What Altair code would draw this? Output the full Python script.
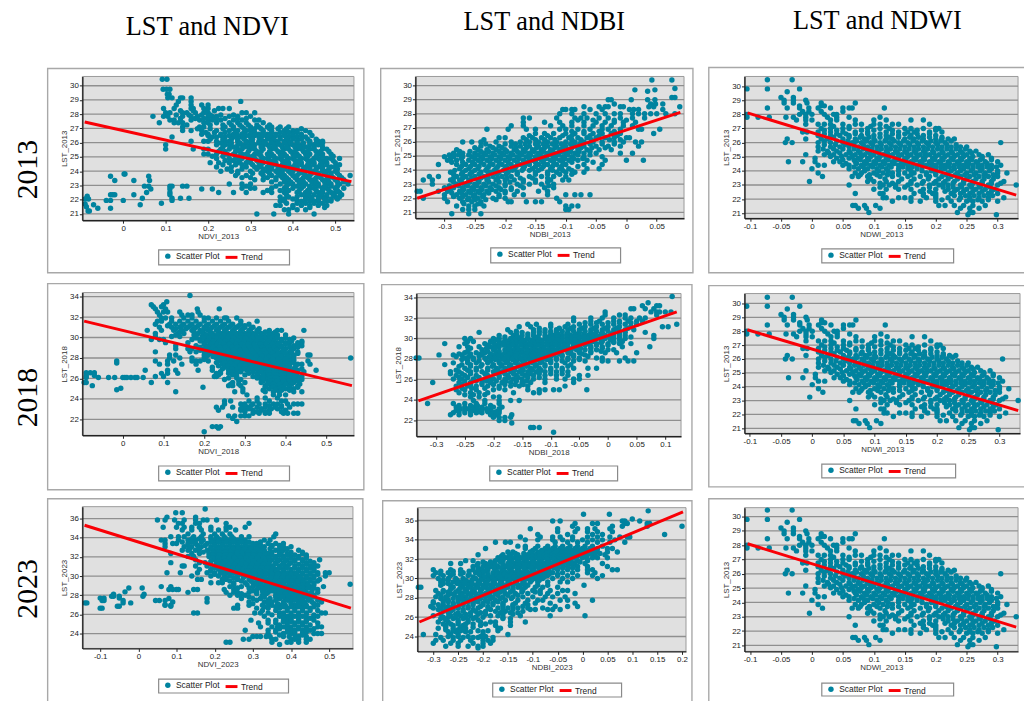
import altair as alt
import pandas as pd

TEAL = "#00839f"
RED = "#f90006"
BG = "#e0e0e0"
GRID = "#8f8f8f"

NDVI_2013 = [
 (30.45,[.092,.103]),(29.75,[.094,.102,.11]),(29.4,[.104,.108]),(29.15,[.105,.115,.135,.14,.16]),
 (28.9,[.13,.16,.277]),(28.65,[.125,.16,.185,.2]),(28.4,[.12,.095,.16,.165,.19,.2,.225,.235,.25]),
 (28.1,[.1,.11,.14,.15,.17,.19,.2,.28,.29,.31]),(27.85,[.07,.095,.105,.14,.16,.175,.2,.21,.22,.25,.27,.3]),
 (27.6,[.11,.12,.16,.18,.2,.21,.23,.26,.28,.31,.32]),(27.4,[.085,.12,.13,.14,.19,.2,.22,.25,.27,.29,.33]),
 (27.1,[.14,.18,.19,.24,.26,.28,.3,.32,.34,.35,.37,.39]),(26.85,[.14,.16,.185,.22,.25,.27,.29,.3,.33,.35,.38,.4,.41,.43]),
 (26.6,[.185,.2,.23,.26,.28,.3,.32,.34,.36,.38,.4,.42]),(26.4,[.115,.21,.22,.24,.26,.28,.3,.32,.34,.35,.37,.39,.41,.43]),
 (26.1,[.16,.19,.2,.22,.24,.25,.27,.29,.3,.32,.33,.35,.36,.38,.39,.41,.44,.46,.47]),
 (25.85,[.1,.22,.24,.25,.27,.28,.3,.31,.33,.34,.36,.37,.39,.4,.42,.44,.45,.46]),
 (25.55,[.1,.165,.19,.2,.23,.25,.27,.28,.3,.31,.33,.35,.36,.38,.39,.41,.42,.44,.45,.47,.48]),
 (25.2,[.19,.2,.22,.245,.26,.28,.29,.31,.32,.34,.35,.37,.38,.4,.41,.43,.44,.46,.47,.49]),
 (24.9,[.22,.25,.27,.28,.3,.31,.33,.34,.36,.37,.39,.4,.42,.43,.45,.46,.48,.49,.51]),
 (24.6,[.205,.225,.25,.27,.29,.3,.32,.33,.35,.36,.38,.39,.41,.42,.44,.45,.47,.48,.5]),
 (24.3,[.22,.255,.29,.31,.32,.34,.35,.37,.38,.4,.41,.43,.44,.46,.47,.49,.5]),
 (24.0,[.23,.255,.27,.3,.33,.34,.36,.37,.39,.4,.42,.43,.45,.47,.48,.5]),
 (23.7,[.265,.29,.33,.35,.37,.38,.4,.41,.43,.44,.46,.48,.49,.51,.535]),
 (23.4,[.31,.33,.36,.38,.39,.41,.42,.44,.45,.47,.48,.5,.52]),
 (23.1,[.25,.28,.3,.37,.39,.4,.42,.43,.45,.46,.48,.49,.51,.53]),
 (22.8,[.28,.3,.31,.35,.38,.4,.42,.44,.45,.47,.48,.5,.52]),
 (22.5,[.26,.29,.33,.35,.38,.41,.43,.44,.46,.47,.49,.5,.51]),
 (22.2,[.37,.39,.41,.43,.44,.46,.47,.48,.5,.51]),(21.9,[.37,.38,.41,.42,.44,.45,.46,.48,.49]),
 (21.6,[.36,.37,.4,.42,.44,.46,.48]),(21.3,[.38,.39,.41,.43]),(21.0,[.39,.355,.315,.45]),
 (23.8,[.002,.004]),(23.65,[-.03,.06]),(23.35,[-.02,.025,.062]),(22.95,[.05,.06,.11,.115,.14,.15]),
 (22.75,[.065,.11,.185,.21]),(22.5,[.055,.11,.225]),(22.35,[-.025,-.02,.025,-.03,.11]),
 (22.1,[.045,.135,.155,.115]),(21.95,[-.04,-.03,0,.115]),(21.75,[.09]),(21.65,[.04,-.07]),
 (21.4,[-.03,-.06]),(22.25,[-.085]),(22.05,[-.082,-.09]),(21.7,[-.09]),(21.5,[-.087]),(21.2,[-.08,-.083]),
]
NDVI_2013_B = [
 (28.25,[.135,.165,.195,.215]),(27.95,[.125,.155,.185,.205,.23,.26]),(27.7,[.135,.17,.19,.22,.24,.27,.29]),
 (27.25,[.15,.205,.235,.255,.275,.295,.315,.345]),(26.98,[.175,.205,.235,.26,.285,.31,.325,.345,.365,.385,.42]),
 (26.72,[.195,.215,.24,.265,.285,.31,.33,.35,.37,.39,.41,.44]),(26.5,[.2,.23,.25,.27,.29,.31,.33,.345,.36,.38,.4,.42,.445]),
 (26.25,[.205,.235,.255,.27,.285,.305,.325,.34,.355,.37,.385,.4,.42,.435,.455]),
 (25.98,[.23,.255,.275,.29,.305,.32,.335,.35,.365,.38,.395,.41,.425,.44,.455,.47]),
 (25.7,[.235,.26,.285,.295,.305,.325,.345,.355,.375,.385,.405,.415,.43,.45,.47]),
 (25.38,[.225,.24,.265,.275,.295,.315,.325,.345,.365,.375,.395,.405,.425,.435,.455,.465,.485]),
 (25.05,[.21,.235,.265,.275,.295,.305,.325,.345,.355,.375,.385,.405,.415,.435,.455,.47,.495]),
 (24.75,[.24,.26,.275,.295,.315,.325,.345,.355,.375,.385,.405,.415,.435,.445,.465,.475,.495]),
 (24.45,[.235,.265,.28,.305,.325,.345,.36,.375,.39,.405,.42,.435,.45,.465,.48,.51]),
 (24.15,[.245,.28,.315,.33,.35,.365,.38,.395,.41,.425,.44,.455,.47,.485,.505]),
 (23.85,[.27,.305,.325,.345,.365,.375,.395,.415,.425,.445,.46,.475,.49,.505]),
 (23.55,[.28,.3,.34,.36,.375,.385,.405,.425,.435,.455,.465,.485,.495,.515]),
 (23.25,[.35,.38,.395,.415,.425,.445,.455,.475,.485,.505,.52]),(22.95,[.29,.36,.385,.41,.425,.44,.46,.475,.49,.505]),
 (22.65,[.34,.37,.39,.415,.435,.455,.47,.485,.505]),(22.35,[.385,.42,.435,.45,.465,.48,.495,.515]),
 (22.05,[.38,.4,.43,.445,.46,.475,.49,.505]),(21.75,[.385,.41,.43,.45,.47]),(21.45,[.4,.44,.475]),
]
NDBI_2013 = [
 (30.4,[.042,.075]),(29.8,[.08]),(29.7,[.014,.047]),(29.6,[.035]),(29.15,[.075,.08]),
 (29.0,[-.03,-.025,.035,.047,.008]),(28.7,[-.02,.04,.048,.06]),(28.5,[-.07,-.045,-.035,-.03,-.01,-.005,.037,.045,.088]),
 (28.3,[-.105,-.1,-.09,-.085,-.06,-.04,.005,.012,.02,.06]),(28.0,[-.11,-.09,-.07,-.05,-.035,-.02,-.01,.01,.02,.03,.04,.05,.065,.08]),
 (27.7,[-.17,-.16,-.115,-.085,-.075,-.065,-.045,-.03,-.01,.01,.03]),(27.4,[-.17,-.135,-.11,-.09,-.07,-.05,-.035,-.02,-.005,.015]),
 (27.15,[-.19,-.17,-.125,-.105,-.09,-.07,-.055,-.04,-.025,-.005,.01]),
 (26.9,[-.23,-.195,-.165,-.15,-.11,-.1,-.08,-.06,-.04,-.03,-.01,.02,.025,.055]),
 (26.6,[-.15,-.135,-.12,-.1,-.085,-.07,-.055,-.04,-.025,-.01,.045]),
 (26.3,[-.2,-.21,-.17,-.155,-.14,-.125,-.11,-.095,-.08,-.065,-.05,-.035,-.02,0,.005]),
 (26.0,[-.27,-.255,-.24,-.215,-.19,-.175,-.16,-.145,-.13,-.115,-.1,-.085,-.07,-.055,-.04,-.02,-.005,.015,.025]),
 (25.7,[-.24,-.225,-.21,-.19,-.175,-.16,-.145,-.13,-.115,-.1,-.085,-.07,-.05,-.03,-.01,.02]),
 (25.45,[-.28,-.245,-.23,-.215,-.2,-.185,-.17,-.155,-.14,-.125,-.11,-.095,-.08,-.065,-.045,-.025]),
 (25.2,[-.285,-.27,-.25,-.235,-.22,-.205,-.19,-.175,-.16,-.145,-.13,-.115,-.1,-.085,-.07,-.05,-.01,.01]),
 (24.95,[-.3,-.285,-.27,-.255,-.24,-.225,-.21,-.195,-.18,-.165,-.15,-.135,-.12,-.105,-.09,-.07,-.04]),
 (24.7,[-.295,-.28,-.26,-.245,-.23,-.215,-.2,-.185,-.17,-.155,-.14,-.125,-.11,-.095,-.08,-.065,-.035,0,.028]),
 (24.4,[-.31,-.28,-.265,-.25,-.235,-.22,-.205,-.19,-.175,-.16,-.145,-.13,-.115,-.1,-.07,-.04]),
 (24.1,[-.275,-.26,-.245,-.23,-.215,-.2,-.185,-.17,-.155,-.14,-.125,-.11,-.095,-.065,-.045]),
 (23.85,[-.29,-.27,-.255,-.24,-.225,-.21,-.195,-.18,-.15,-.13,-.115,-.1,-.085,-.07]),
 (23.55,[-.325,-.31,-.28,-.265,-.25,-.235,-.22,-.205,-.19,-.16,-.14,-.12,-.1]),
 (23.3,[-.335,-.32,-.29,-.275,-.26,-.245,-.23,-.215,-.2,-.185,-.17,-.15,-.125,-.105,-.095]),
 (23.0,[-.32,-.28,-.265,-.25,-.235,-.22,-.2,-.18,-.16,-.14,-.12]),
 (22.75,[-.3,-.285,-.27,-.255,-.24,-.225,-.21,-.19,-.17,-.135,-.12]),
 (22.5,[-.345,-.34,-.31,-.295,-.275,-.26,-.245,-.23,-.215,-.2,-.18,-.145,-.13]),
 (22.25,[-.3,-.28,-.265,-.25,-.235,-.21,-.185,-.17,-.13,-.1,-.085,-.075,-.06]),
 (22.0,[-.335,-.3,-.275,-.26,-.245,-.22,-.2,-.115]),(21.75,[-.295,-.27,-.255,-.24,-.195,-.19,-.165,-.15,-.14,-.11]),
 (21.45,[-.28,-.26,-.25,-.235,-.1,-.09,-.08]),(21.2,[-.27,-.26,-.25,-.1,-.095]),(20.9,[-.288,-.26,-.24]),
]
NDBI_2013_B = [
 (27.55,[-.08,-.055,-.02,0]),(26.75,[-.09,-.07,-.045,-.02]),(26.45,[-.16,-.13,-.105,-.09,-.06,-.045,-.015]),
 (26.15,[-.235,-.165,-.15,-.135,-.118,-.09,-.075,-.058,-.028,-.01]),
 (25.85,[-.232,-.2,-.183,-.167,-.15,-.137,-.122,-.107,-.092,-.077,-.06,-.04,-.02]),
 (25.58,[-.25,-.22,-.205,-.182,-.165,-.148,-.135,-.118,-.105,-.09,-.075,-.057,-.035]),
 (25.32,[-.275,-.258,-.24,-.227,-.21,-.197,-.18,-.167,-.152,-.137,-.122,-.107,-.092,-.078,-.06]),
 (25.08,[-.292,-.277,-.26,-.245,-.232,-.217,-.202,-.187,-.172,-.158,-.142,-.127,-.112,-.097,-.08,-.06]),
 (24.82,[-.29,-.272,-.25,-.237,-.222,-.207,-.192,-.177,-.16,-.147,-.132,-.117,-.102,-.087,-.072]),
 (24.55,[-.288,-.27,-.254,-.24,-.225,-.21,-.195,-.18,-.165,-.15,-.137,-.12,-.105,-.09,-.055]),
 (24.25,[-.272,-.257,-.243,-.227,-.212,-.198,-.182,-.168,-.15,-.137,-.122,-.107,-.08]),
 (23.98,[-.283,-.265,-.25,-.232,-.218,-.203,-.188,-.172,-.16,-.145,-.122,-.105,-.09]),
 (23.7,[-.285,-.272,-.258,-.243,-.228,-.213,-.198,-.18,-.15,-.13,-.11,-.09]),
 (23.43,[-.285,-.27,-.255,-.24,-.228,-.212,-.197,-.175,-.155,-.13]),
 (23.15,[-.285,-.272,-.258,-.243,-.227,-.21,-.192,-.17,-.15,-.13]),
 (22.88,[-.292,-.277,-.262,-.247,-.232,-.215,-.2,-.175,-.128]),(22.62,[-.29,-.268,-.252,-.238,-.222,-.207,-.19]),
 (22.37,[-.288,-.272,-.257,-.242,-.227,-.2]),(22.12,[-.285,-.27,-.252,-.237,-.21]),(21.9,[-.262,-.25,-.232,-.215]),(21.6,[-.268,-.245,-.24]),
]
NDWI_2013 = [
 (30.45,[-.072,-.032]),(29.8,[-.105,-.072,-.02]),(29.6,[-.04]),(29.2,[-.05,-.03]),(29.0,[-.045,-.03,-.01]),
 (28.8,[-.045,-.03,-.008,.015,.07]),(28.6,[-.02,.015,.02]),(28.45,[-.072,-.04,-.02,-.005,.01,.03,.05,.06,.065,.117]),
 (28.2,[-.015,-.005,.015,.05]),(28.0,[-.105,-.02,-.01,0,.02,.035,.04]),(27.8,[-.105,-.087,-.069,-.042,-.03,-.01,.025,.04,.06,.11]),
 (27.6,[-.025,-.01,0,.03,.04,.07,.1,.12,.16,.18]),(27.3,[-.01,.01,.02,.03,.05,.07,.08,.1,.11,.13,.14,.19]),
 (27.0,[.015,.03,.05,.06,.09,.11,.125,.15,.16,.18,.2,.205]),(26.75,[-.015,-.008,.01,.03,.05,.07,.09,.12,.14,.155,.165,.19,.21]),
 (26.5,[.01,.03,.045,.06,.08,.1,.12,.14,.16,.18,.2]),(26.25,[-.04,-.01,.015,.025,.05,.07,.085,.1,.12,.13,.15,.165,.18,.2,.21,.22,.23]),
 (26.0,[-.043,-.032,.01,.03,.05,.065,.08,.095,.11,.125,.14,.155,.17,.185,.2,.215,.305]),
 (25.7,[.01,.03,.045,.06,.075,.09,.105,.12,.135,.15,.165,.18,.195,.21,.225,.24,.25]),
 (25.4,[.01,.025,.04,.06,.075,.09,.105,.12,.135,.15,.165,.18,.195,.21,.225,.24,.265,.255]),
 (25.15,[-.01,.02,.035,.055,.07,.085,.1,.115,.13,.145,.16,.175,.19,.205,.22,.235,.25,.27,.285]),
 (24.9,[.005,.04,.06,.075,.09,.105,.12,.135,.15,.165,.18,.195,.21,.225,.24,.255,.275,.29]),
 (24.65,[-.038,-.015,.005,.035,.045,.07,.085,.1,.115,.13,.145,.16,.175,.19,.205,.22,.235,.25,.265,.28,.3]),
 (24.4,[.01,.02,.05,.06,.08,.095,.11,.125,.14,.155,.17,.185,.2,.215,.23,.245,.26,.275,.29,.305]),
 (24.15,[0,.06,.075,.09,.105,.12,.14,.155,.17,.2,.215,.23,.245,.26,.275,.29]),
 (23.85,[.01,.07,.08,.1,.115,.13,.15,.165,.185,.2,.22,.235,.25,.265,.28,.3,.315]),
 (23.6,[.017,.065,.075,.09,.11,.13,.155,.175,.19,.21,.225,.24,.255,.27,.285,.3]),
 (23.25,[-.004,.09,.1,.12,.14,.16,.18,.2,.215,.23,.245,.26,.275,.29,.31]),
 (23.0,[.06,.115,.125,.135,.155,.17,.19,.205,.22,.24,.255,.27,.285,.3,.33]),
 (22.7,[.1,.12,.14,.16,.18,.2,.22,.235,.25,.265,.28,.295]),(22.4,[.07,.11,.115,.165,.18,.195,.2,.225,.24,.255,.27,.285,.3]),
 (22.1,[.115,.12,.14,.15,.16,.185,.2,.22,.24,.255,.27,.285,.31]),(21.85,[.13,.16,.175,.2,.225,.25,.26,.275,.3]),
 (21.55,[.066,.07,.085,.103,.205,.215,.23,.245,.26,.28]),(21.35,[.075,.088,.11,.24,.255,.27]),
 (21.05,[.092,.255,.26,.235]),(20.9,[.252,.298]),
]
NDWI_2013_B = [
 (27.15,[.035,.06,.095,.12]),(26.87,[.02,.04,.08,.1,.13,.17,.2]),(26.62,[.02,.04,.055,.07,.09,.11,.13,.15,.17,.19]),
 (26.38,[.035,.06,.078,.092,.11,.125,.14,.158,.172,.19,.21]),
 (26.12,[.02,.04,.058,.072,.088,.102,.118,.133,.148,.163,.178,.192,.208,.225]),
 (25.85,[.02,.038,.053,.068,.083,.098,.112,.128,.143,.158,.172,.188,.203,.218,.233]),
 (25.55,[.018,.035,.05,.068,.083,.097,.112,.127,.142,.157,.172,.187,.203,.218,.233,.248]),
 (25.27,[.027,.045,.062,.078,.093,.108,.122,.138,.153,.168,.183,.197,.212,.227,.243,.258]),
 (25.02,[.03,.048,.065,.08,.095,.11,.125,.14,.155,.17,.183,.2,.215,.23,.245,.26,.275]),
 (24.78,[.05,.068,.078,.092,.108,.123,.138,.152,.168,.182,.198,.212,.228,.242,.258,.272,.29]),
 (24.52,[.055,.072,.088,.103,.118,.133,.148,.163,.178,.193,.208,.222,.238,.253,.268,.283]),
 (24.27,[.068,.083,.098,.113,.128,.147,.162,.178,.193,.208,.222,.238,.252,.268,.283,.298]),
 (24.0,[.085,.108,.123,.14,.16,.178,.193,.208,.225,.24,.257,.272,.287,.3]),
 (23.72,[.078,.093,.105,.122,.14,.16,.185,.2,.217,.232,.247,.262,.278,.293]),
 (23.42,[.095,.118,.145,.165,.188,.205,.22,.235,.25,.265,.278,.293]),
 (23.12,[.11,.13,.16,.178,.197,.212,.228,.245,.26,.275,.29,.305]),
 (22.85,[.11,.135,.15,.19,.212,.228,.242,.258,.272,.288]),(22.55,[.175,.19,.215,.23,.245,.26,.275,.29]),
 (22.25,[.18,.2,.23,.248,.262,.278,.292]),(21.95,[.21,.238,.255,.268,.285]),
]
NDVI_2018 = [
 (34.1,[.165]),(33.5,[.108]),(33.2,[.07,.1]),(33.0,[.075,.095]),(32.8,[.08,.105,.183,.237]),(32.5,[.085,.1,.11,.14,.185]),
 (32.2,[.09,.145,.16,.17,.19]),(31.9,[.095,.105,.2,.12,.15,.17,.21,.23,.25,.255,.28]),
 (31.6,[.085,.095,.12,.14,.16,.18,.2,.22,.24,.26,.29,.33]),(31.3,[.08,.115,.13,.15,.17,.19,.21,.23,.25,.27,.29,.31]),
 (31.0,[.09,.12,.14,.16,.18,.2,.22,.24,.26,.28,.3,.32]),(30.7,[.06,.095,.125,.145,.17,.19,.21,.23,.25,.27,.29,.31,.33,.36,.38,.39,.445]),
 (30.4,[.08,.135,.15,.185,.2,.22,.24,.26,.28,.3,.32,.34,.36,.37]),
 (30.1,[.08,.12,.14,.18,.195,.21,.225,.24,.255,.27,.285,.3,.315,.33,.35,.36,.37]),
 (29.8,[.07,.09,.1,.17,.19,.205,.22,.235,.25,.265,.28,.295,.31,.325,.34,.355,.37,.39,.41]),
 (29.5,[.105,.16,.2,.215,.23,.245,.26,.275,.29,.305,.32,.335,.35,.365,.38,.4,.41,.43,.44]),
 (29.2,[.13,.18,.21,.225,.24,.255,.27,.285,.3,.315,.33,.345,.36,.375,.39,.42,.44]),
 (28.9,[.13,.16,.17,.2,.215,.23,.245,.26,.275,.29,.305,.32,.335,.35,.365,.38,.4,.42]),
 (28.6,[.08,.165,.18,.2,.22,.235,.25,.265,.28,.295,.31,.325,.34,.355,.37,.39,.41,.43]),
 (28.3,[.115,.13,.2,.21,.225,.24,.255,.27,.285,.3,.315,.33,.345,.36,.375,.39,.405,.42,.46,.455]),
 (28.0,[.115,.14,.17,.2,.23,.245,.26,.275,.29,.305,.32,.335,.35,.365,.38,.395,.41,.56]),
 (27.7,[.08,.11,.125,.17,.18,.19,.21,.24,.255,.27,.285,.3,.315,.33,.345,.36,.375,.39,.41,.42,.455]),
 (27.4,[.09,.11,.145,.18,.245,.26,.275,.29,.305,.32,.335,.35,.365,.38,.395,.41,.43,.44,.46]),
 (27.1,[.22,.25,.265,.28,.295,.31,.325,.34,.355,.37,.385,.4]),
 (26.8,[.055,.11,.13,.185,.22,.26,.275,.29,.305,.32,.335,.35,.365,.38,.395,.41,.43,.475]),
 (26.5,[.095,.11,.135,.23,.24,.26,.28,.31,.33,.35,.365,.38,.4,.42]),(26.2,[.08,.1,.225,.23,.28,.32,.335,.35,.37,.385,.4,.415,.43,.44]),
 (25.9,[.25,.29,.34,.355,.37,.385,.4,.415,.43,.44]),(25.6,[.07,.11,.27,.3,.34,.36,.375,.39,.405,.42]),
 (25.3,[.26,.27,.29,.35,.365,.38,.395,.41,.43]),(25.15,[.197]),(25.0,[.295,.36,.38,.4,.42]),(24.7,[.13,.275,.295,.35,.37,.385,.42,.44]),
 (24.4,[.305,.37,.385,.4]),(24.1,[.33,.35,.38]),(23.8,[.25,.265,.31,.33,.36,.39,.4]),
 (23.5,[.25,.29,.3,.32,.335,.35,.37,.38,.405,.42,.43,.44]),(23.2,[.23,.245,.27,.295,.305,.33,.35,.375,.39,.41]),
 (22.9,[.235,.29,.3,.32,.34,.36,.4]),(22.6,[.395,.405,.32,.335,.35,.42,.43,.36]),(22.35,[.26,.275,.29,.3,.31]),
 (22.1,[.27]),(21.8,[.28]),(21.3,[.22,.23,.24]),(21.15,[.235]),(20.8,[.2]),
 (27.7,[-.015]),(27.5,[-.015]),(26.55,[-.09,-.08,-.07]),(26.3,[-.09,-.07]),
 (26.1,[-.09,-.06,-.035,-.02,0,.005,.03,.02,.035,.05,.01]),(25.6,[-.095,-.09]),(25.3,[-.075]),(24.9,[-.015]),(25.05,[-.005]),
]
NDVI_2018_B = [
 (31.15,[.11,.145,.165,.185,.205,.225,.245,.265,.285,.3]),(30.85,[.13,.155,.175,.2,.215,.235,.255,.275,.295,.315,.335]),
 (30.55,[.14,.175,.195,.215,.235,.25,.27,.29,.31,.33,.35,.375]),
 (30.25,[.13,.175,.205,.218,.232,.248,.262,.278,.292,.308,.322,.34,.36,.38,.4]),
 (29.95,[.18,.198,.212,.228,.242,.258,.272,.288,.302,.318,.332,.348,.362,.38,.4,.42]),
 (29.65,[.19,.208,.222,.238,.252,.268,.282,.298,.312,.328,.342,.358,.372,.39,.415,.44]),
 (29.35,[.2,.218,.232,.248,.262,.278,.292,.308,.322,.338,.352,.368,.382,.4,.43]),
 (29.05,[.19,.208,.222,.238,.252,.268,.282,.298,.312,.328,.342,.358,.372,.39,.41,.43]),
 (28.75,[.19,.212,.228,.242,.258,.272,.288,.302,.318,.332,.348,.362,.378,.395,.415]),
 (28.45,[.205,.218,.232,.248,.262,.278,.292,.308,.322,.338,.352,.368,.382,.4,.415,.43]),
 (28.15,[.205,.222,.238,.252,.268,.282,.298,.312,.328,.342,.358,.372,.388,.405,.42]),
 (27.85,[.2,.235,.248,.262,.278,.292,.308,.322,.338,.352,.368,.382,.4,.42]),
 (27.55,[.23,.25,.265,.28,.295,.31,.325,.34,.355,.37,.385,.4,.42]),
 (27.25,[.235,.258,.272,.288,.302,.318,.332,.348,.362,.378,.392,.41,.425]),
 (26.95,[.245,.268,.282,.298,.312,.328,.342,.358,.372,.388,.402,.42,.44]),
 (26.65,[.24,.27,.29,.32,.34,.358,.372,.39,.41,.43,.445]),(26.35,[.235,.27,.3,.33,.345,.36,.378,.392,.408,.425]),
 (26.05,[.26,.28,.33,.345,.362,.378,.392,.408,.422,.435]),(25.75,[.285,.345,.362,.38,.395,.41,.43]),
 (25.45,[.265,.285,.355,.37,.385,.4,.415,.435]),(25.15,[.35,.37,.39,.41,.43]),(24.85,[.345,.375,.39,.41]),
 (23.35,[.3,.315,.36,.39]),(23.05,[.29,.31,.34,.365,.38]),(22.75,[.3,.33,.35,.39]),
]
NDBI_2018 = [
 (34.1,[.112]),(33.5,[.07]),(33.2,[.06,.085,.09]),(32.9,[.04,.045,.065,.08]),(32.6,[-.005,.075,.085,.09,.1,.11]),
 (32.3,[-.005,.02,.03,.085]),(32.0,[-.06,-.03,-.01,.01,.03,.04,.055,.065]),(31.7,[-.06,-.03,-.015,.01,.02,.035,.05,.06]),
 (31.4,[-.14,-.125,-.1,-.07,-.05,-.03,-.01,.01,.03,.05,.12]),(31.15,[-.155,-.135,-.1,-.075,-.06,-.04,-.02,0,.02,.04,.095,.105]),
 (30.85,[-.175,-.13,-.11,-.09,-.07,-.05,-.03,-.01,.01,.03,.045]),(30.6,[-.225,-.17,-.15,-.13,-.11,-.09,-.07,-.05,-.03,-.01,.01,.03,.065]),
 (30.3,[-.19,-.165,-.15,-.13,-.11,-.095,-.08,-.065,-.05,-.035,-.02,-.005,.01,.03,.08]),
 (30.0,[-.25,-.24,-.2,-.19,-.17,-.155,-.14,-.125,-.11,-.095,-.08,-.065,-.05,-.035,-.02,-.005,.01,.03,.08]),
 (29.7,[-.245,-.235,-.205,-.19,-.175,-.16,-.145,-.13,-.115,-.1,-.085,-.07,-.055,-.04,-.025,-.01,.01,.025]),
 (29.5,[-.285,-.25,-.215,-.19,-.175,-.16,-.145,-.13,-.115,-.1,-.085,-.07,-.055,-.035,-.02,0,.02,.04]),
 (29.2,[-.26,-.245,-.225,-.205,-.19,-.175,-.16,-.145,-.13,-.115,-.1,-.085,-.07,-.05,-.03,-.01,.025,.073]),
 (28.9,[-.22,-.2,-.18,-.165,-.15,-.135,-.12,-.105,-.09,-.075,-.055,-.04,-.02,0,.01]),
 (28.6,[-.25,-.23,-.215,-.195,-.18,-.165,-.15,-.135,-.12,-.105,-.09,-.07,-.05,-.03,-.005,.015,.05]),
 (28.4,[-.295,-.27,-.255,-.24,-.22,-.2,-.185,-.17,-.155,-.14,-.125,-.11,-.095,-.08,-.06,-.04]),
 (28.1,[-.335,-.33,-.25,-.235,-.215,-.2,-.185,-.17,-.155,-.14,-.125,-.11,-.09,-.07,-.05,-.02,-.01,.03]),
 (27.8,[-.245,-.225,-.205,-.19,-.175,-.16,-.145,-.13,-.115,-.1,-.08,-.06,-.04,-.01,0,.02,.045,.035]),
 (27.45,[-.285,-.255,-.24,-.22,-.2,-.185,-.17,-.155,-.14,-.125,-.11,-.09,-.065]),
 (27.1,[-.25,-.23,-.21,-.195,-.18,-.165,-.15,-.135,-.12,-.1,-.08,-.06,-.02,-.035]),
 (26.75,[-.275,-.26,-.24,-.22,-.2,-.185,-.17,-.155,-.14,-.125,-.11,-.09,-.07]),
 (26.4,[-.265,-.25,-.23,-.21,-.19,-.175,-.16,-.145,-.13,-.11,-.09,-.07,-.05,-.035]),
 (26.05,[-.27,-.255,-.235,-.215,-.2,-.18,-.165,-.15,-.13,-.11,-.09,-.075,-.06,-.05]),
 (25.7,[-.306,-.26,-.24,-.22,-.205,-.185,-.17,-.15,-.135,-.11,-.06]),(25.35,[-.265,-.245,-.23,-.21,-.19,-.17,-.155,-.14,-.075]),
 (25.0,[-.265,-.25,-.23,-.2,-.18,-.14,-.12,-.11,-.095,-.085,-.037]),(24.7,[-.26,-.24,-.225,-.21,-.165,-.13,-.12]),
 (24.3,[-.24,-.225,-.2,-.19]),(23.95,[-.235,-.215,-.19,-.17,-.155]),(23.65,[-.315,-.27,-.25,-.23,-.215,-.19]),
 (23.3,[-.265,-.25,-.235,-.22,-.2,-.185]),(23.0,[-.265,-.25,-.235,-.22,-.205,-.19,-.21]),(22.75,[-.27,-.25,-.23,-.22,-.2,-.19]),
 (22.55,[-.275,-.26,-.24,-.205,-.195,-.168]),(22.3,[-.2,-.19,-.18,-.17]),(22.0,[-.19,-.18]),(21.75,[-.168]),
 (21.3,[-.135,-.13,-.12]),(20.85,[-.095]),
]
NDBI_2018_B = [
 (31.55,[-.04,-.02,0,.02,.04]),(31.0,[-.12,-.085,-.065,-.045,-.025,-.005,.015,.035]),(30.72,[-.16,-.12,-.1,-.08,-.06,-.04,-.02,0,.02]),
 (30.45,[-.16,-.14,-.12,-.1,-.087,-.072,-.057,-.042,-.027,-.012,.005,.02]),
 (30.15,[-.18,-.158,-.14,-.122,-.103,-.088,-.072,-.057,-.043,-.028,-.012,.003,.02,.04]),
 (29.85,[-.195,-.18,-.162,-.148,-.132,-.118,-.103,-.088,-.072,-.058,-.042,-.027,-.012,.004,.02]),
 (29.6,[-.2,-.183,-.167,-.152,-.137,-.122,-.107,-.092,-.077,-.062,-.047,-.03,-.012,.01]),
 (29.35,[-.21,-.197,-.182,-.167,-.152,-.137,-.122,-.107,-.092,-.077,-.06,-.04,-.02,0]),
 (29.05,[-.24,-.212,-.197,-.172,-.157,-.142,-.127,-.112,-.097,-.08,-.062,-.048,-.03,-.01]),
 (28.75,[-.245,-.21,-.19,-.172,-.157,-.142,-.128,-.113,-.098,-.082,-.065,-.05,-.03,-.012]),
 (28.5,[-.26,-.24,-.222,-.205,-.19,-.173,-.16,-.143,-.13,-.115,-.1,-.085,-.065,-.045]),
 (28.25,[-.265,-.243,-.225,-.207,-.192,-.177,-.162,-.147,-.132,-.117,-.1,-.08,-.06,-.035]),
 (27.95,[-.255,-.235,-.213,-.197,-.182,-.167,-.152,-.137,-.122,-.107,-.09,-.07,-.05]),
 (27.62,[-.27,-.245,-.23,-.21,-.19,-.178,-.162,-.148,-.132,-.118,-.1,-.075]),
 (27.28,[-.26,-.24,-.222,-.202,-.187,-.172,-.157,-.142,-.127,-.11,-.09,-.07]),
 (26.9,[-.265,-.245,-.23,-.21,-.192,-.178,-.163,-.148,-.132,-.117,-.1,-.08]),
 (26.55,[-.275,-.255,-.24,-.215,-.198,-.18,-.165,-.15,-.137,-.12,-.1,-.08]),
 (26.2,[-.26,-.245,-.225,-.207,-.19,-.173,-.157,-.14,-.12]),(25.85,[-.25,-.23,-.212,-.195,-.178,-.16,-.142]),
 (25.5,[-.255,-.24,-.22,-.2,-.18,-.162,-.148]),(25.15,[-.255,-.238,-.215,-.19]),(24.5,[-.25,-.235,-.215]),
 (23.45,[-.26,-.24,-.228,-.205]),(23.15,[-.258,-.243,-.228,-.212,-.19]),(22.85,[-.26,-.24,-.225,-.21,-.195]),
]
NDVI_2023 = [
 (37,[.175]),(36.6,[.098,.115]),(36.15,[.075,.15]),(35.85,[.05,.07,.095,.12,.15,.17,.18,.205]),(35.5,[.105,.115,.15,.16,.23,.29]),
 (35.1,[.065,.1,.12,.14,.16,.19,.23,.24,.28]),(34.8,[.115,.14,.165,.19,.21,.23,.255]),(34.4,[.13,.17,.2,.22,.24,.36]),
 (34.1,[.085,.105,.12,.145,.165,.19,.205,.225,.245,.27,.29,.355]),(33.75,[.06,.07,.105,.13,.15,.17,.2,.22,.24,.26,.28,.33,.345]),
 (33.4,[.07,.09,.1,.13,.15,.18,.2,.22,.24,.26,.28,.3,.31,.34,.36,.38]),(33.05,[.07,.12,.14,.165,.19,.21,.23,.25,.27,.29,.31,.33,.35,.4,.38]),
 (32.7,[.115,.13,.15,.18,.2,.22,.24,.255,.27,.285,.3,.315,.33,.36,.38,.42]),
 (32.35,[.085,.14,.16,.185,.205,.22,.235,.25,.265,.28,.295,.31,.325,.34,.37,.39,.43]),
 (32.05,[.13,.145,.185,.205,.22,.235,.25,.265,.28,.295,.31,.325,.34,.36,.38,.4,.42,.44]),
 (31.7,[.15,.2,.215,.23,.245,.26,.275,.29,.305,.32,.335,.35,.37,.39,.41,.43,.475]),
 (31.4,[.085,.16,.175,.205,.22,.235,.25,.265,.28,.295,.31,.325,.34,.36,.38,.4,.44,.46]),
 (31.05,[.115,.12,.15,.18,.2,.215,.23,.245,.26,.275,.29,.305,.32,.335,.35,.37,.385,.41,.43,.45,.47]),
 (30.7,[.16,.19,.21,.225,.24,.255,.27,.285,.3,.315,.33,.345,.36,.38,.4,.42,.44,.46]),
 (30.35,[.075,.11,.155,.18,.2,.215,.23,.25,.265,.28,.295,.31,.325,.34,.355,.37,.39,.41,.43,.45,.47,.49,.5]),
 (30.0,[.14,.19,.21,.225,.24,.26,.28,.3,.315,.33,.345,.36,.375,.39,.405,.42,.44,.46,.49]),
 (29.65,[.165,.155,.22,.23,.26,.29,.31,.325,.34,.355,.37,.385,.4,.415,.43,.45,.475]),
 (29.3,[.19,.21,.22,.25,.28,.3,.32,.335,.35,.365,.38,.395,.41,.425,.44,.46]),(29.15,[.555]),
 (28.9,[.06,.085,.24,.27,.3,.315,.33,.345,.36,.375,.39,.405,.42,.44,.45,.485]),
 (28.6,[.08,.09,.1,.105,.145,.155,.225,.25,.31,.33,.345,.36,.375,.39,.405,.42,.435,.47]),
 (28.3,[.13,.23,.25,.26,.29,.31,.34,.36,.375,.39,.405,.42,.44,.47]),(28.0,[.24,.26,.28,.325,.36,.38,.395,.41,.425,.44,.46]),
 (27.65,[.08,.18,.27,.3,.32,.345,.37,.385,.4,.415,.43,.45]),(27.3,[.09,.18,.29,.33,.35,.38,.4,.42,.435,.455,.48]),
 (26.95,[.07,.085,.26,.29,.325,.35,.37,.385,.41,.425,.44,.47]),(26.65,[.25,.26,.31,.34,.37,.39,.41,.43,.45]),
 (26.15,[.145,.155,.305,.32,.34,.37,.38,.4,.42,.44,.48,.49]),(25.8,[.33,.37,.39,.41,.43,.46,.47]),
 (25.4,[.295,.34,.36,.39,.4,.42,.44,.46]),(25.1,[.315,.34,.36,.39,.41,.43,.47]),(24.7,[.32,.35,.365,.38,.4,.42,.44,.47,.48]),
 (24.35,[.28,.34,.36,.4,.41,.43,.45]),(24.0,[.34,.38,.4,.43,.46,.47,.48]),(23.7,[.3,.31,.32,.335,.345,.38,.395,.42,.44]),
 (23.4,[.275,.29,.35,.36,.4,.42,.44,.45,.41]),(23.1,[.23,.24,.35,.39,.4,.42,.44]),(22.85,[.37]),
 (28.75,[-.025,.01]),(28.35,[-.035]),(28.1,[-.065,.015]),(27.9,[-.07,-.065,.012,-.05]),(27.7,[-.1,-.09,-.05]),
 (27.45,[-.095,-.09,-.04,.045,.055,.07]),(27.2,[-.14,-.135,-.02,-.04]),(27.0,[.07]),(26.85,[-.055,-.05,.085]),(26.65,[-.1,-.095]),
]
NDVI_2023_B = [
 (33.9,[.14,.16,.19,.21,.23,.25,.27]),(33.55,[.115,.14,.165,.19,.21,.23,.25,.27,.29,.32]),
 (33.2,[.13,.155,.175,.2,.22,.24,.26,.28,.3,.32,.35,.37]),(32.85,[.135,.16,.19,.21,.23,.248,.262,.278,.295,.31,.325,.345,.37,.39]),
 (32.5,[.17,.195,.212,.228,.242,.258,.272,.288,.302,.318,.332,.35,.375,.4,.43]),
 (32.2,[.195,.212,.228,.242,.258,.272,.288,.302,.318,.332,.35,.37,.39,.41,.44]),
 (31.88,[.195,.21,.225,.238,.252,.268,.282,.298,.312,.328,.342,.36,.38,.4,.42,.44]),
 (31.55,[.19,.212,.228,.242,.258,.272,.288,.302,.318,.332,.345,.365,.385,.41,.43,.45]),
 (31.22,[.19,.212,.222,.238,.252,.268,.282,.298,.312,.328,.342,.358,.378,.395,.42,.44,.46]),
 (30.88,[.2,.22,.232,.248,.262,.278,.292,.308,.322,.338,.352,.37,.39,.41,.43,.45,.46]),
 (30.52,[.19,.22,.235,.258,.272,.288,.302,.318,.332,.348,.362,.38,.4,.42,.44,.46]),
 (30.18,[.2,.225,.24,.26,.272,.288,.305,.32,.335,.35,.365,.382,.4,.415,.43,.45,.47]),
 (29.82,[.23,.25,.275,.3,.318,.332,.348,.362,.378,.392,.408,.422,.44,.46]),
 (29.48,[.24,.27,.295,.312,.328,.342,.358,.372,.388,.402,.418,.432,.45,.47]),
 (29.1,[.25,.285,.31,.322,.338,.352,.368,.382,.398,.412,.43,.445,.46]),
 (28.75,[.26,.29,.32,.338,.352,.368,.382,.398,.412,.43,.445,.46]),(28.45,[.3,.325,.35,.368,.382,.398,.412,.43,.455]),
 (28.15,[.27,.31,.335,.37,.385,.4,.415,.435,.45]),(27.82,[.29,.33,.36,.378,.392,.408,.422,.44,.46]),
 (27.48,[.31,.34,.36,.39,.41,.428,.445,.47]),(27.12,[.3,.34,.365,.38,.4,.42,.435,.46]),(26.8,[.33,.36,.38,.4,.42,.44,.46]),
 (26.4,[.325,.36,.39,.41,.43,.45,.47]),(25.95,[.35,.38,.4,.42,.44,.46]),(25.6,[.38,.4,.42,.44,.45]),(25.25,[.38,.4,.42,.44]),
 (24.9,[.37,.39,.41,.43,.45]),(24.5,[.37,.39,.42,.44,.46]),(24.15,[.36,.39,.41,.44]),(23.85,[.37,.41,.43]),
]
NDBI_2023 = [
 (37,[.132]),(36.65,[.002,.054]),(36.15,[.1]),(35.95,[-.06,-.045,.08,.085,.115]),(35.7,[-.015,.02,.03,.085,.09,.135,.13]),
 (35.4,[-.02,.06,.08,.13,.2]),(35.15,[-.105,-.05,-.01,.01,.055,.025]),(34.85,[-.05,-.015,.01,.03,.06]),(34.55,[-.09,-.03,.02,.04,.165]),
 (34.3,[-.125,-.085,-.06,-.045,-.02,.01,.03,.055,.075,.09,.095]),(34.0,[-.115,-.09,-.06,-.04,-.02,0,.02,.04,.065]),
 (33.75,[-.175,-.145,-.155,-.055,-.03,-.01,.01,.03,.055,.085]),(33.35,[-.13,-.115,-.09,-.07,-.055,-.04,-.025,-.01,.005,.02,.04]),
 (33.1,[-.195,-.115,-.095,-.075,-.06,-.045,-.03,-.015,0,.015,.03,.05,.06]),
 (32.75,[-.15,-.14,-.105,-.09,-.075,-.06,-.045,-.03,-.015,0,.015,.03,.05,.07]),
 (32.45,[-.21,-.16,-.145,-.13,-.11,-.095,-.08,-.065,-.05,-.035,-.02,-.005,.01,.025,.045]),
 (32.15,[-.17,-.155,-.14,-.125,-.11,-.095,-.08,-.065,-.05,-.035,-.02,0,.02,.03,.05]),
 (31.85,[-.235,-.22,-.175,-.16,-.145,-.13,-.115,-.1,-.085,-.07,-.055,-.04,-.025,-.01,.01]),
 (31.55,[-.265,-.245,-.21,-.195,-.18,-.15,-.135,-.12,-.105,-.09,-.075,-.06,-.045,-.03,-.015,.005,.04]),
 (31.25,[-.22,-.2,-.185,-.17,-.155,-.14,-.125,-.11,-.095,-.08,-.065,-.05,-.03,-.01,.01,.05]),
 (30.9,[-.3,-.265,-.245,-.22,-.205,-.19,-.175,-.16,-.145,-.13,-.115,-.1,-.085,-.07,-.05,-.03,-.01,.01,.02,.06,.07]),
 (30.6,[-.295,-.27,-.24,-.215,-.2,-.18,-.165,-.15,-.135,-.12,-.105,-.09,-.075,-.06,-.04,-.02,.01,.025]),
 (30.3,[-.3,-.28,-.265,-.23,-.205,-.19,-.175,-.16,-.145,-.13,-.115,-.1,-.085,-.07,-.05,-.03,-.01,.02,.04]),
 (30.0,[-.29,-.27,-.255,-.24,-.215,-.2,-.185,-.17,-.155,-.14,-.125,-.11,-.095,-.08,-.06,-.04,-.02,.03]),
 (29.65,[-.285,-.26,-.245,-.23,-.21,-.195,-.18,-.165,-.15,-.135,-.12,-.105,-.09,-.07,-.045,-.03]),
 (29.3,[-.285,-.265,-.245,-.23,-.215,-.2,-.185,-.17,-.155,-.14,-.125,-.11,-.09,-.07,.003]),
 (29.1,[-.33,-.325,-.26,-.24,-.225,-.21,-.195,-.18,-.165,-.15,-.13,-.115,-.095,-.08,-.05]),
 (28.75,[-.295,-.28,-.25,-.235,-.22,-.205,-.19,-.175,-.16,-.14,-.12,-.1,-.085,-.065,-.04,-.03]),
 (28.45,[-.29,-.265,-.245,-.23,-.215,-.195,-.175,-.155,-.135,-.11,-.085,-.07,-.05,-.015]),
 (28.1,[-.295,-.275,-.25,-.235,-.215,-.195,-.18,-.16,-.14,-.12,-.1,-.075,-.06,-.035]),
 (27.75,[-.27,-.25,-.235,-.215,-.195,-.175,-.155,-.13,-.11,-.09,-.08,-.045,-.03,.02]),
 (27.45,[-.3,-.26,-.24,-.22,-.2,-.18,-.16,-.135,-.115,-.095,-.065,-.015]),
 (27.1,[-.305,-.27,-.25,-.23,-.205,-.19,-.16,-.14,-.12,-.055,-.03,-.01]),
 (26.8,[-.29,-.26,-.24,-.22,-.185,-.16,-.14,-.105,-.095,-.07,-.06,-.045]),
 (26.45,[-.27,-.25,-.225,-.205,-.165,-.145,-.13]),(26.15,[-.3,-.265,-.245,-.225,-.185,-.17,-.125,-.065,.005]),
 (25.85,[-.285,-.26,-.24,-.22,-.16,-.145]),(25.5,[-.29,-.27,-.25,-.23,-.205,-.185,-.175,-.145,-.115]),
 (25.15,[-.275,-.26,-.24,-.205,-.175,-.145]),(24.85,[-.29,-.26,-.235,-.17,-.165]),(24.5,[-.27,-.255,-.235,-.225,-.2]),
 (24.2,[-.32,-.295,-.265,-.25,-.2,-.15]),(23.9,[-.285,-.26,-.24,-.22,-.21,-.18]),(23.6,[-.295,-.28,-.26,-.245,-.225,-.2,-.19,-.18]),
 (23.3,[-.3,-.265,-.25,-.22,-.2,-.185]),(23.0,[-.275,-.25,-.23,-.21,-.2]),(22.8,[-.21]),
]
NDBI_2023_B = [
 (32.9,[-.1,-.082,-.068,-.052,-.037,-.022,-.008,.008,.023]),(32.6,[-.135,-.118,-.102,-.087,-.072,-.057,-.042,-.027,-.012,.003,.018,.035]),
 (32.3,[-.163,-.148,-.132,-.118,-.102,-.087,-.072,-.057,-.042,-.027,-.01,.008]),(32.0,[-.165,-.147,-.132,-.118,-.102,-.087,-.072,-.058,-.043,-.028,-.012,.01]),
 (31.7,[-.2,-.185,-.165,-.142,-.127,-.112,-.097,-.082,-.067,-.052,-.037,-.022,-.005]),
 (31.4,[-.212,-.19,-.175,-.16,-.145,-.13,-.115,-.1,-.085,-.07,-.055,-.04,-.02]),
 (31.08,[-.21,-.192,-.178,-.163,-.148,-.132,-.118,-.103,-.088,-.073,-.058,-.04,-.02]),
 (30.75,[-.285,-.26,-.245,-.228,-.21,-.197,-.172,-.157,-.142,-.127,-.112,-.097,-.082,-.067]),
 (30.45,[-.285,-.26,-.245,-.228,-.208,-.19,-.172,-.157,-.142,-.127,-.112,-.097,-.082,-.067,-.05]),
 (30.15,[-.22,-.197,-.182,-.167,-.152,-.137,-.122,-.107,-.092,-.077]),
 (29.82,[-.28,-.27,-.252,-.235,-.222,-.205,-.19,-.177,-.162,-.147,-.132,-.117,-.102,-.087]),
 (29.48,[-.28,-.27,-.252,-.237,-.222,-.207,-.192,-.177,-.162,-.147,-.132,-.117]),
 (28.92,[-.265,-.247,-.232,-.217,-.202,-.187,-.172,-.157,-.14,-.122]),(28.6,[-.28,-.27,-.255,-.237,-.222,-.205,-.185,-.165,-.145,-.122,-.095]),
 (28.27,[-.285,-.27,-.258,-.242,-.225,-.205,-.187,-.17,-.15,-.13]),(27.92,[-.285,-.275,-.26,-.243,-.225,-.205,-.185,-.165,-.143]),
 (27.6,[-.3,-.27,-.28,-.25,-.23,-.21,-.19,-.17]),(27.28,[-.29,-.28,-.26,-.24,-.22,-.2,-.18,-.16,-.14,-.11]),
 (26.95,[-.3,-.285,-.265,-.275,-.25,-.23,-.21,-.19,-.17,-.15,-.13,-.11,-.08]),
 (26.6,[-.28,-.265,-.24,-.215,-.195,-.175,-.155,-.12]),(26.3,[-.285,-.255,-.235,-.21,-.195,-.16,-.14]),
 (26.0,[-.28,-.27,-.255,-.235,-.215,-.2,-.16]),(25.7,[-.275,-.25,-.23,-.21]),(25.3,[-.28,-.265,-.25,-.235,-.22,-.195]),
 (24.95,[-.275,-.245,-.22]),(24.7,[-.275,-.25,-.24]),(24.6,[-.26,-.245,-.21,-.19,-.17]),(24.0,[-.27,-.25,-.23,-.205,-.195]),
]

X_NDVI13 = [0,.1,.2,.3,.4,.5]
X_NDBI13 = [-.3,-.25,-.2,-.15,-.1,-.05,0,.05]
X_NDWI = [-.1,-.05,0,.05,.1,.15,.2,.25,.3]
X_NDVI18 = [-.1,0,.1,.2,.3,.4,.5]
X_NDBI18 = [-.3,-.25,-.2,-.15,-.1,-.05,0,.05,.1]
X_NDVI23 = [-.1,0,.1,.2,.3,.4,.5]
X_NDBI23 = [-.3,-.25,-.2,-.15,-.1,-.05,0,.05,.1,.15,.2]
Y_13 = [21,22,23,24,25,26,27,28,29,30]
Y_18 = [22,24,26,28,30,32,34]
Y_23 = [24,26,28,30,32,34,36]

SERIES = ["Scatter Plot", "Trend"]
COL_X = [8, 376, 708]
ROW_Y = [8, 278, 496]
COL_W = [368, 332, 325]
ROW_H = [270, 218, 208]

def expand(rows):
    return pd.DataFrame([{"x": v, "y": y, "series": SERIES[0]} for y, xs in rows for v in xs])

def label_chart(text, px, py, size, angle=0):
    return alt.Chart(pd.DataFrame({"t": [text]})).mark_text(
        font="Liberation Serif", fontSize=size, color="black", angle=angle, align="center", baseline="middle", clip=True
    ).encode(text="t:N", x=alt.value(px), y=alt.value(py))

def panel(c, r, rows, xname, yname, xd, yd, xt, yt, trend, frame, plot, box, extra=()):
    ox, oy, W, H = COL_X[c], ROW_Y[r], COL_W[c], ROW_H[r]
    L, T, R, B = frame[0]-ox, frame[1]-oy, frame[2]-ox, frame[3]-oy
    l, t, rr, b = plot[0]-ox, plot[1]-oy, plot[2]-ox, plot[3]-oy
    one = pd.DataFrame({"a": [0]})
    common = dict(labelExpr="''+datum.value", grid=False, zindex=1, domainColor="#222", domainWidth=1.4, tickColor="#222", tickSize=3,
                  labelFontSize=8, titleFontSize=8, labelFont="Liberation Sans", titleFont="Liberation Sans", titleFontWeight="normal",
                  labelColor="#222", titleColor="#333", labelPadding=1, labelOverlap=False, labelFlush=False, labelBound=False)
    xax = alt.Axis(title=xname, values=xt, offset=-(H-b), titlePadding=0, **common)
    yax = alt.Axis(title=yname, values=yt, offset=-l, titlePadding=1, **common)
    xs = alt.Scale(domain=xd, range=[l, rr], nice=False, zero=False)
    ys = alt.Scale(domain=yd, range=[b, t], nice=False, zero=False)
    xe = alt.X("x:Q", scale=xs, axis=xax)
    ye = alt.Y("y:Q", scale=ys, axis=yax)
    lg_common = dict(title=None, orient="none", direction="horizontal", padding=0, labelFontSize=8.5,
                     labelFont="Liberation Sans", labelColor="#222")
    lg_pts = alt.Legend(legendX=box[0]-ox+5, legendY=box[1]-oy+2, labelOffset=4, symbolType="circle", symbolSize=30, **lg_common)
    lg_line = alt.Legend(legendX=box[0]-ox+66, legendY=box[1]-oy, labelOffset=2, symbolType="stroke", symbolSize=144, symbolStrokeWidth=3, **lg_common)
    fill = alt.Fill("series:N", scale=alt.Scale(domain=SERIES[:1], range=[TEAL]), legend=lg_pts)
    stroke = alt.Stroke("series:N", scale=alt.Scale(domain=SERIES[1:], range=[RED]), legend=lg_line)

    layers = [
        alt.Chart(one).mark_rect(fill="white", stroke="#a8a8a8", strokeWidth=1.4, clip=True).encode(
            x=alt.value(L), x2=alt.value(R), y=alt.value(T), y2=alt.value(B)),
        alt.Chart(one).mark_rect(fill=BG, stroke="#9a9a9a", strokeWidth=1).encode(
            x=alt.value(l), x2=alt.value(rr), y=alt.value(t), y2=alt.value(b)),
        alt.Chart(pd.DataFrame({"y": yt})).mark_rule(color=GRID, strokeWidth=1.3).encode(
            y=ye, x=alt.value(l), x2=alt.value(rr)),
        alt.Chart(expand(rows)).mark_point(opacity=1, filled=True, size=30).encode(x=xe, y=ye, fill=fill),
        alt.Chart(pd.DataFrame({"x": trend[0], "y": trend[1], "series": [SERIES[1]]*2})).mark_line(strokeWidth=3).encode(
            x=xe, y=ye, stroke=stroke),
        alt.Chart(one).mark_rect(fillOpacity=0, stroke="#8a8a8a", strokeWidth=1.2).encode(
            x=alt.value(box[0]-ox), x2=alt.value(box[2]-ox), y=alt.value(box[1]-oy), y2=alt.value(box[3]-oy)),
    ]
    layers += list(extra)
    return alt.layer(*layers).properties(width=W, height=H)

def rs(ch):
    return ch.resolve_scale(fill="independent", stroke="independent", x="independent", y="independent")

WATER = NDWI_2013 + NDWI_2013_B
p1 = panel(0,0,NDVI_2013+NDVI_2013_B,"NDVI_2013","LST_2013",[-.0965,.544],[20.56,30.65],X_NDVI13,Y_13,([-.091,.538],[27.45,23.27]),
           (48,66,367,272),(83,74,357,219),(160,249,292,264),
           [label_chart("LST and NDVI",201,16,26.5), label_chart("2013",20,160,30,270)])
p4 = panel(0,1,NDVI_2018+NDVI_2018_B,"NDVI_2018","LST_2018",[-.0995,.568],[20.45,34.39],X_NDVI18,Y_18,([-.095,.563],[31.6,25.3]),
           (48,283,367,491),(83,292,357,436),(160,467,292,482),
           [label_chart("2018",20,120,30,270)])
p7 = panel(0,2,NDVI_2023+NDVI_2023_B,"NDVI_2023","LST_2023",[-.1468,.5623],[22.45,37.24],X_NDVI23,Y_23,([-.141,.557],[35.3,26.65]),
           (48,500,366,712),(83,508,356,651),(160,682,291,696),
           [label_chart("2023",20,95,30,270)])
p2 = panel(1,0,NDBI_2013+NDBI_2013_B,"NDBI_2013","LST_2013",[-.348,.095],[20.58,30.65],X_NDBI13,Y_13,([-.345,.089],[22.0,28.1]),
           (384,66,699,272),(419,74,690,217),(495,247,626,262),
           [label_chart("LST and NDBI",173,11,26.5)])
p5 = panel(1,1,NDBI_2018+NDBI_2018_B,"NDBI_2018","LST_2018",[-.3345,.1275],[20.45,34.39],X_NDBI18,Y_18,([-.331,.12],[23.9,32.6]),
           (385,284,698,491),(420,293,687,437),(494,467,623,482))
p8 = panel(1,2,NDBI_2023+NDBI_2023_B,"NDBI_2023","LST_2023",[-.332,.208],[22.46,37.33],X_NDBI23,Y_23,([-.328,.202],[25.5,36.9]),
           (386,502,698,712),(421,509,692,654),(497,686,627,700))
tr = ([-.104,.33],[28.1,22.28])
p3 = panel(2,0,WATER,"NDWI_2013","LST_2013",[-.109,.333],[20.65,30.68],X_NDWI,Y_13,tr,
           (715,65,1045,272),(751,74,1027,217),(829,248,962,262),
           [label_chart("LST and NDWI",177,10.5,26.5)])
p6 = panel(2,1,WATER,"NDWI_2013","LST_2013",[-.1086,.333],[20.64,30.71],X_NDWI,Y_13,tr,
           (715,285,1045,488),(751,293,1029,434),(829,465,964,479))
p9 = panel(2,2,WATER,"NDWI_2013","LST_2013",[-.109,.333],[20.58,30.62],X_NDWI,Y_13,tr,
           (715,500,1045,712),(751,509,1027,654),(829,686,962,699))

cols = [rs(alt.vconcat(a, b, c, spacing=0)) for a, b, c in [(p1,p4,p7),(p2,p5,p8),(p3,p6,p9)]]
chart = rs(alt.hconcat(*cols, spacing=0)).properties(padding=0).configure_view(stroke=None)
chart.save("out.html", embed_options={"renderer": "svg", "actions": False})
